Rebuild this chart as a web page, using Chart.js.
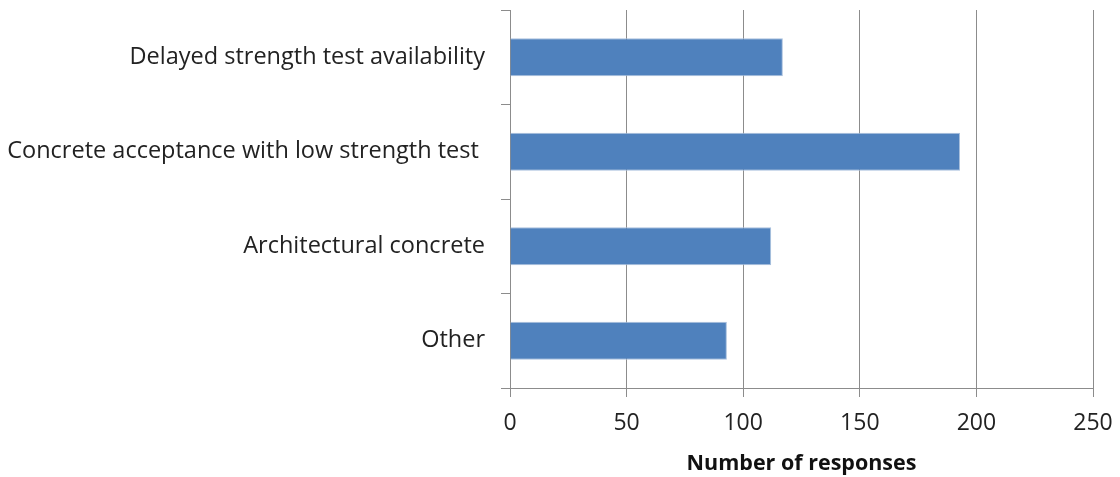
<!DOCTYPE html>
<html>
<head>
<meta charset="utf-8">
<script src="https://cdn.jsdelivr.net/npm/chart.js@4/dist/chart.umd.min.js"></script>
<style>
  html, body { margin: 0; padding: 0; background: #fff; }
  #wrap { width: 1120px; height: 477px; }
</style>
</head>
<body>
<div id="wrap"><canvas id="chart"></canvas></div>
<script>
// categories and values
const categories = [
    'Delayed strength test availability',
    'Concrete acceptance with low strength test ',
    'Architectural concrete',
    'Other'
];
const responses = [117, 193, 112, 93];
const xTicks = [0, 50, 100, 150, 200, 250];

const ctx = document.getElementById('chart');

const config = {
    type: 'bar',
    data: {
        labels: categories,
        datasets: [{
            data: responses,
            backgroundColor: '#4f81bd',
            borderColor: '#a9c0dd',
            borderWidth: 1,
            categoryPercentage: 1,
            barPercentage: 0.4
        }]
    },
    options: {
        indexAxis: 'y',
        responsive: true,
        maintainAspectRatio: false,
        animation: false,
        layout: {
            padding: { top: 10, right: 27, left: 0, bottom: 0 }
        },
        plugins: {
            legend: { display: false },
            tooltip: { enabled: false }
        },
        scales: {
            x: {
                min: 0,
                max: 250,
                afterBuildTicks: (scale) => {
                    scale.ticks = xTicks.map(v => ({ value: v }));
                },
                afterFit: (scale) => {
                    scale.height = 89;
                    // chart area is set by layout padding only
                    scale.paddingLeft = 0;
                    scale.paddingRight = 0;
                },
                grid: {
                    color: '#8c8c8c',
                    lineWidth: 1,
                    tickLength: 9,
                    drawTicks: true
                },
                border: { color: '#8c8c8c', width: 1 },
                ticks: {
                    color: '#222',
                    padding: 13,
                    font: { family: 'Open Sans', size: 23 }
                },
                title: {
                    display: true,
                    text: 'Number of responses',
                    color: '#111',
                    padding: { top: 2, bottom: 0 },
                    font: { family: 'Open Sans', size: 21.5, weight: 'bold' }
                }
            },
            y: {
                offset: true,
                afterFit: (scale) => {
                    scale.width = 510;
                    scale.paddingTop = 0;
                    scale.paddingBottom = 0;
                },
                grid: {
                    offset: true,
                    drawOnChartArea: false,
                    color: '#8c8c8c',
                    tickLength: 9
                },
                border: { color: '#8c8c8c', width: 1 },
                ticks: {
                    color: '#222',
                    padding: 16,
                    font: { family: 'Open Sans', size: 23.5 }
                }
            }
        }
    }
};

const chart = new Chart(ctx, config);
</script>
</body>
</html>
